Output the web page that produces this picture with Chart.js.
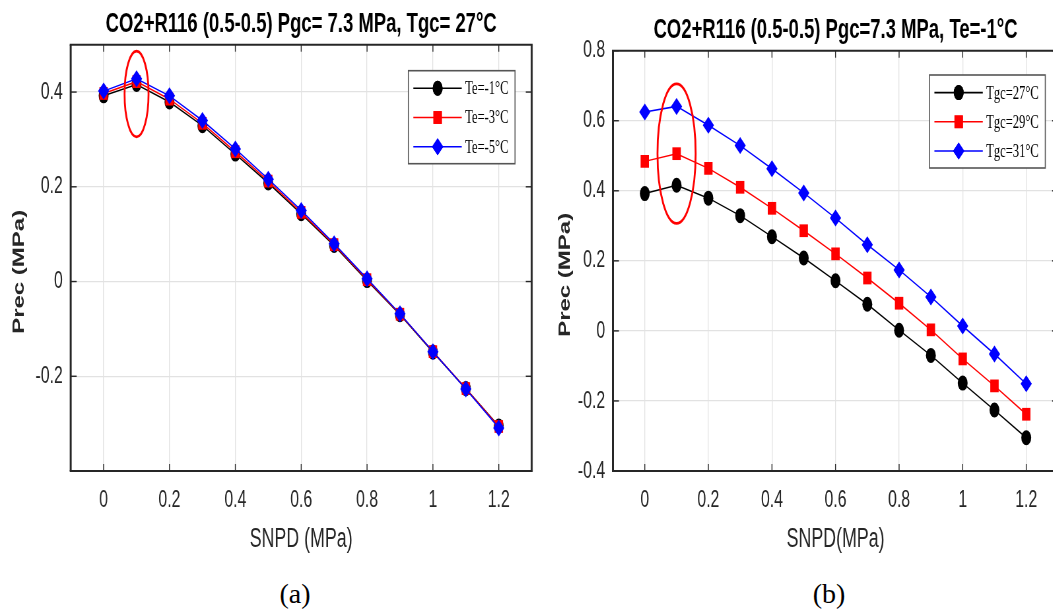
<!DOCTYPE html>
<html>
<head>
<meta charset="utf-8">
<script src="https://cdn.jsdelivr.net/npm/chart.js@4.4.1/dist/chart.umd.min.js"></script>
<style>
  html, body { margin: 0; padding: 0; background: #fff; overflow: hidden; width: 1053px; height: 611px; }
  .panel { position: absolute; top: 0; transform-origin: 0 0; transform: scaleX(0.66); }
  #panelA { left: 0; }
  #panelB { left: 546px; }
  .cap { position: absolute; top: 578px; width: 60px; margin-left: -30px; text-align: center;
         font-family: "Liberation Serif", "Times New Roman", serif; font-size: 28px; line-height: 32px; color: #000; }
</style>
</head>
<body>
<div class="panel" id="panelA"><canvas id="chartA" width="820" height="570"></canvas></div>
<div class="panel" id="panelB"><canvas id="chartB" width="790" height="570"></canvas></div>
<div class="cap" style="left:295px">(a)</div>
<div class="cap" style="left:829px">(b)</div>
<script>
const FONT_SANS = '"Liberation Sans", Arial, Helvetica, sans-serif';
const FONT_SERIF = '"Liberation Serif", "Times New Roman", serif';
const INK = '#262626';

// SNPD (MPa) values and axis ticks
const snpd = [0, 0.1, 0.2, 0.3, 0.4, 0.5, 0.6, 0.7, 0.8, 0.9, 1.0, 1.1, 1.2];
const xTickValues = [0, 0.2, 0.4, 0.6, 0.8, 1, 1.2];
const yTickValuesA = [-0.2, 0, 0.2, 0.4];
const yTickValuesB = [-0.4, -0.2, 0, 0.2, 0.4, 0.6, 0.8];

// Panel (a): Tgc = 27 °C, three evaporating temperatures
const titleA = 'CO2+R116 (0.5-0.5) Pgc= 7.3 MPa, Tgc= 27°C';
const labelsA = ['Te=-1°C', 'Te=-3°C', 'Te=-5°C'];
const precTeMinus1 = [0.392, 0.416, 0.379, 0.329, 0.269, 0.208, 0.143, 0.076, 0.002, -0.070, -0.149, -0.226, -0.305];
const precTeMinus3 = [0.397, 0.422, 0.385, 0.334, 0.274, 0.212, 0.146, 0.078, 0.004, -0.069, -0.148, -0.226, -0.306];
const precTeMinus5 = [0.402, 0.428, 0.392, 0.340, 0.280, 0.216, 0.150, 0.080, 0.006, -0.068, -0.148, -0.227, -0.309];

// Panel (b): Te = -1 °C, three gas-cooler temperatures
const titleB = 'CO2+R116 (0.5-0.5) Pgc=7.3 MPa, Te=-1°C';
const labelsB = ['Tgc=27°C', 'Tgc=29°C', 'Tgc=31°C'];
const precTgc27 = [0.392, 0.416, 0.379, 0.329, 0.269, 0.208, 0.143, 0.076, 0.002, -0.070, -0.149, -0.226, -0.305];
const precTgc29 = [0.484, 0.506, 0.464, 0.410, 0.350, 0.286, 0.220, 0.151, 0.079, 0.003, -0.080, -0.157, -0.238];
const precTgc31 = [0.625, 0.641, 0.587, 0.529, 0.463, 0.394, 0.322, 0.246, 0.174, 0.097, 0.014, -0.066, -0.151];

const yAxisTitle = 'Prec (MPa)';

// Highlight ellipses around the SNPD = 0.1 MPa optimum (data units)
const ringA = { x: 0.1, y: 0.396, rx: 0.0364, ry: 0.0905 };
const ringB = { x: 0.1, y: 0.506, rx: 0.060, ry: 0.199 };

const seriesStyles = [
  { color: '#000000', pointStyle: 'circle', radius: 7.5 },
  { color: '#ff0000', pointStyle: 'rect', radius: 9 },
  { color: '#0000ff', pointStyle: 'rectRot', radius: 8.5 }
];

function buildDatasets(labels, series) {
  return series.map((vals, i) => {
    const s = seriesStyles[i];
    return {
      label: labels[i],
      data: snpd.map((x, j) => ({ x: x, y: vals[j] })),
      borderColor: s.color,
      backgroundColor: s.color,
      borderWidth: 1.5,
      pointStyle: s.pointStyle,
      pointRadius: s.radius,
      pointHoverRadius: s.radius,
      pointBackgroundColor: s.color,
      pointBorderColor: s.color,
      pointBorderWidth: 0,
      order: series.length - i,
      tension: 0,
      clip: false
    };
  });
}

function seg(ctx, x1, y1, x2, y2) {
  ctx.beginPath(); ctx.moveTo(x1, y1); ctx.lineTo(x2, y2); ctx.stroke();
}

// Closed axes box with inward ticks on all four sides
const framePlugin = {
  id: 'frame',
  beforeDatasetsDraw(chart) {
    const ctx = chart.ctx;
    const { left, right, top, bottom } = chart.chartArea;
    const xs = chart.scales.x, ys = chart.scales.y;
    ctx.save();
    ctx.strokeStyle = INK;
    ctx.lineWidth = 1.4;
    xs.ticks.forEach(t => {
      const px = xs.getPixelForValue(t.value);
      seg(ctx, px, bottom, px, bottom - 7);
      seg(ctx, px, top, px, top + 7);
    });
    ys.ticks.forEach(t => {
      const py = ys.getPixelForValue(t.value);
      seg(ctx, left, py, left + 9, py);
      seg(ctx, right, py, right - 9, py);
    });
    ctx.lineWidth = 2;
    seg(ctx, left - 1.5, top, right + 1.5, top);
    seg(ctx, left - 1.5, bottom, right + 1.5, bottom);
    ctx.lineWidth = 3;
    seg(ctx, left, top, left, bottom);
    seg(ctx, right, top, right, bottom);
    ctx.restore();
  }
};

// Red ellipse marking the optimum point group
const ringPlugin = {
  id: 'ringMark',
  afterDatasetsDraw(chart, args, opts) {
    const xs = chart.scales.x, ys = chart.scales.y, ctx = chart.ctx;
    const cx = xs.getPixelForValue(opts.x), cy = ys.getPixelForValue(opts.y);
    const rx = Math.abs(xs.getPixelForValue(opts.x + opts.rx) - cx);
    const ry = Math.abs(ys.getPixelForValue(opts.y + opts.ry) - cy);
    ctx.save();
    ctx.strokeStyle = '#ff0000';
    ctx.lineWidth = 2.8;
    ctx.beginPath();
    ctx.ellipse(cx, cy, rx, ry, 0, 0, Math.PI * 2);
    ctx.stroke();
    ctx.restore();
  }
};

function drawMarker(ctx, style, radius, x, y) {
  if (Chart.helpers && Chart.helpers.drawPoint) {
    Chart.helpers.drawPoint(ctx, { pointStyle: style, radius: radius, rotation: 0, borderWidth: 0 }, x, y);
    ctx.fill();
    return;
  }
  ctx.beginPath();
  if (style === 'circle') ctx.arc(x, y, radius, 0, Math.PI * 2);
  else if (style === 'rect') { const h = radius * Math.SQRT1_2; ctx.rect(x - h, y - h, 2 * h, 2 * h); }
  else { ctx.moveTo(x - radius, y); ctx.lineTo(x, y - radius); ctx.lineTo(x + radius, y); ctx.lineTo(x, y + radius); ctx.closePath(); }
  ctx.fill();
}

// Boxed legend in the upper right of the plot area
const legendPlugin = {
  id: 'boxLegend',
  afterDraw(chart, args, opts) {
    const ctx = chart.ctx;
    const { right, top } = chart.chartArea;
    const sets = chart.data.datasets;
    ctx.save();
    ctx.font = '19px ' + FONT_SERIF;
    const textW = Math.max.apply(null, sets.map(d => ctx.measureText(d.label).width));
    const boxW = 86 + textW + 10, boxH = 93;
    const bx = right - opts.offsetRight - boxW, by = top + opts.offsetTop;
    ctx.fillStyle = '#ffffff';
    ctx.fillRect(bx, by, boxW, boxH);
    ctx.strokeStyle = '#555555';
    ctx.lineWidth = 1.6;
    ctx.strokeRect(bx, by, boxW, boxH);
    sets.forEach((d, i) => {
      const ry = by + 17.6 + i * 29.2;
      ctx.strokeStyle = d.borderColor;
      ctx.lineWidth = 1.6;
      seg(ctx, bx + 7.5, ry, bx + 80.8, ry);
      ctx.fillStyle = d.pointBackgroundColor;
      drawMarker(ctx, d.pointStyle, d.pointRadius, bx + 44.3, ry);
      ctx.fillStyle = '#000000';
      ctx.textAlign = 'left';
      ctx.textBaseline = 'middle';
      ctx.fillText(d.label, bx + 86, ry + 1);
    });
    ctx.restore();
  }
};

// Bold title centred over the plot area, plus the rotated y-axis label
const titlePlugin = {
  id: 'panelTitle',
  afterDraw(chart, args, opts) {
    const ctx = chart.ctx;
    const { left, right, top, bottom } = chart.chartArea;
    ctx.save();
    ctx.font = 'bold 28px ' + FONT_SANS;
    ctx.fillStyle = '#000000';
    ctx.textAlign = 'center';
    ctx.textBaseline = 'alphabetic';
    ctx.fillText(opts.text, (left + right) / 2, top - 13);
    ctx.restore();

    ctx.save();
    ctx.translate(left - opts.yLabelGap, (top + bottom) / 2 + 14);
    ctx.rotate(-Math.PI / 2);
    ctx.font = 'bold 24px ' + FONT_SANS;
    ctx.fillStyle = INK;
    ctx.textAlign = 'center';
    ctx.textBaseline = 'middle';
    ctx.fillText(yAxisTitle, 0, 0);
    ctx.restore();
  }
};

function makePanel(canvasId, cfg) {
  const gridStyle = { color: '#e2e2e2', lineWidth: 1.3, drawTicks: false };
  return new Chart(document.getElementById(canvasId), {
    type: 'line',
    data: { datasets: cfg.datasets },
    options: {
      responsive: false,
      maintainAspectRatio: false,
      animation: false,
      devicePixelRatio: 1,
      events: [],
      layout: { padding: { left: 0, top: cfg.padTop, right: cfg.padRight, bottom: 9 } },
      scales: {
        x: {
          type: 'linear', min: -0.1, max: 1.3,
          afterBuildTicks: s => { s.ticks = xTickValues.map(v => ({ value: v })); },
          afterFit: s => { s.height = 90; },
          grid: gridStyle,
          border: { display: false },
          ticks: { padding: 15, color: INK, font: { family: FONT_SANS, size: 24 }, maxRotation: 0, autoSkip: false,
                   callback: v => String(v) },
          title: { display: true, text: cfg.xTitle, color: INK, font: { family: FONT_SANS, size: 27 },
                   padding: { top: 0, bottom: 5 } }
        },
        y: {
          type: 'linear', min: cfg.yMin, max: cfg.yMax,
          afterBuildTicks: s => { s.ticks = cfg.yTicks.map(v => ({ value: v })); },
          afterFit: s => { s.width = cfg.yWidth; },
          grid: gridStyle,
          border: { display: false },
          ticks: { padding: 12, color: INK, font: { family: FONT_SANS, size: 24 }, autoSkip: false,
                   callback: v => String(v) }
        }
      },
      plugins: {
        legend: { display: false },
        title: { display: false },
        tooltip: { enabled: false },
        panelTitle: { text: cfg.title, yLabelGap: cfg.yLabelGap },
        boxLegend: { offsetRight: cfg.legendRight, offsetTop: cfg.legendTop },
        ringMark: cfg.ring
      }
    },
    plugins: [framePlugin, ringPlugin, legendPlugin, titlePlugin]
  });
}

makePanel('chartA', {
  datasets: buildDatasets(labelsA, [precTeMinus1, precTeMinus3, precTeMinus5]),
  title: titleA, xTitle: 'SNPD (MPa)',
  yMin: -0.4, yMax: 0.5, yTicks: yTickValuesA,
  padTop: 44.7, padRight: 14.4, yWidth: 107.1, yLabelGap: 78,
  legendRight: 25.3, legendTop: 26, ring: ringA
});

makePanel('chartB', {
  datasets: buildDatasets(labelsB, [precTgc27, precTgc29, precTgc31]),
  title: titleB, xTitle: 'SNPD(MPa)',
  yMin: -0.4, yMax: 0.8, yTicks: yTickValuesB,
  padTop: 50.7, padRight: 14.2, yWidth: 101.5, yLabelGap: 72,
  legendRight: 19.3, legendTop: 24.3, ring: ringB
});
</script>
</body>
</html>
